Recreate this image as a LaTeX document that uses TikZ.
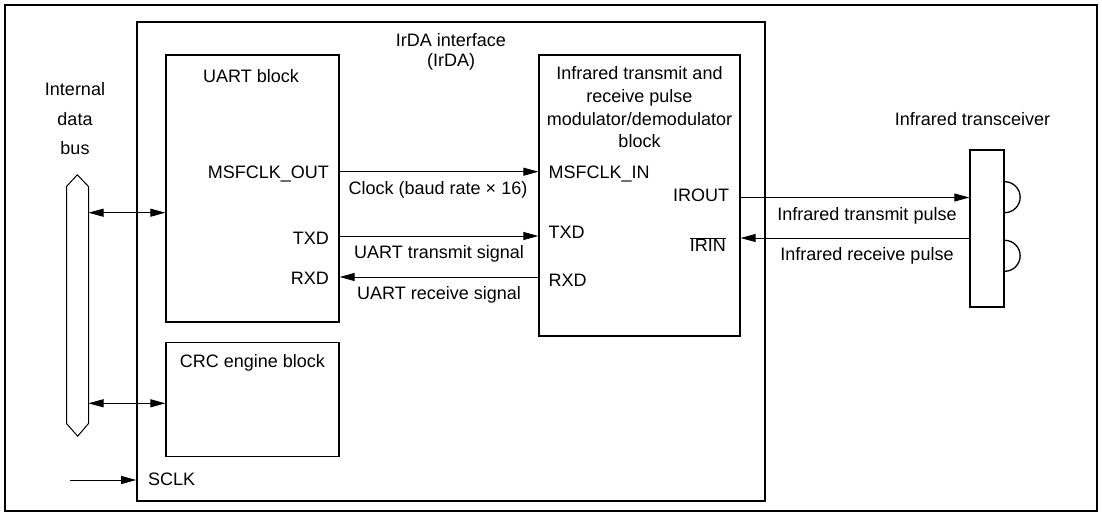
\documentclass[tikz,border=0pt]{standalone}
\usepackage{fontspec}
\setmainfont{Liberation Sans}
\usetikzlibrary{arrows.meta}
\tikzstyle{frame}  = [draw=black, line width=2.2pt]
\tikzstyle{block}  = [rectangle, draw=black, line width=1.3pt, inner sep=0pt]
\tikzstyle{outline}= [draw=black, line width=1.3pt]
\tikzstyle{lbl}    = [inner sep=0pt, anchor=base]
\tikzstyle{arrow}  = [-{Triangle[length=15pt, width=8pt]}, line width=0.9pt]
\tikzstyle{barrow} = [{Triangle[length=15pt, width=8pt]}-{Triangle[length=15pt, width=8pt]}, line width=0.9pt]

\begin{document}
\begin{tikzpicture}[x=1pt, y=-1pt, font=\fontsize{18}{22}\selectfont]
  \useasboundingbox (0,0) rectangle (1102,516);
  \draw[frame] (5,5) rectangle (1097,511);

  % Blocks
  \node[block, line width=1.6pt, minimum width=628pt, minimum height=479pt] (irda) at (451,261.3) {};
  \node[block, minimum width=173pt, minimum height=267pt] (uart) at (252.5,188.5) {};
  \node[block, minimum width=173pt, minimum height=114pt] (crc)  at (252.5,399.2) {};
  \node[block, minimum width=201pt, minimum height=281pt] (irb)  at (639.5,195.5) {};
  \node[block, minimum width=34pt,  minimum height=157pt] (trx)  at (987,228.5) {};
  \node[inner sep=0pt, minimum width=21.6pt, minimum height=236.6pt] (bus) at (77.5,305) {};

  % Bus outline and transceiver lenses
  \draw[line width=1pt] (bus.north west) -- ++(10.8,-11.7) -- (bus.north east)
    -- (bus.south east) -- ++(-10.8,12.7) -- (bus.south west) -- cycle;
  \draw[outline] (trx.east |- 0,181.7) arc[start angle=-90, end angle=90, radius=15.5];
  \draw[outline] (trx.east |- 0,240.3) arc[start angle=-90, end angle=90, radius=15.5];

  % Titles
  \node[lbl] (tint)  at (75,96)  {Internal};
  \node[lbl] (tdata) at (75,125) {data};
  \node[lbl] (tbus)  at (75,154) {bus};
  \node[lbl] (tirda) at (451,46.5) {IrDA interface};
  \node[lbl] (tirda2) at (451,67) {(IrDA)};
  \node[lbl] (tuart) at (251,82.3) {UART block};
  \node[lbl] (tcrc)  at (252.5,367.7) {CRC engine block};
  \node[lbl] (tirb1) at (639.5,79.3)  {Infrared transmit and};
  \node[lbl] (tirb2) at (639.5,102.7) {receive pulse};
  \node[lbl] (tirb3) at (639.5,125.7) {modulator/demodulator};
  \node[lbl] (tirb4) at (639.5,147.3) {block};
  \node[lbl] (ttrx)  at (972.5,125.7) {Infrared transceiver};

  % Ports
  \node[lbl, anchor=base east] (pmsfo) at (329,178.3) {MSFCLK\_OUT};
  \node[lbl, anchor=base east] (ptxdo) at (329,244.3) {TXD};
  \node[lbl, anchor=base east] (prxdo) at (329,284)   {RXD};
  \node[lbl, anchor=base west] (pmsfi) at (548.3,178.3) {MSFCLK\_IN};
  \node[lbl, anchor=base west] (ptxdi) at (548.3,238.3) {TXD};
  \node[lbl, anchor=base west] (prxdi) at (548.3,286.7) {RXD};
  \node[lbl, anchor=base east] (pirout) at (729.3,201.7) {IROUT};
  \node[lbl, anchor=base east] (pirin)  at (726,251.7) {$\overline{\hbox{IRIN}}$};
  \node[lbl, anchor=base west] (psclk)  at (148,485) {SCLK};

  % Signal names
  \node[lbl] (sclk) at (438,194.3) {Clock (baud rate × 16)};
  \node[lbl] (stx)  at (439,258.3) {UART transmit signal};
  \node[lbl] (srx)  at (439,299.5) {UART receive signal};
  \node[lbl] (sirt) at (867,220)   {Infrared transmit pulse};
  \node[lbl] (sirr) at (867,260.7) {Infrared receive pulse};

  % Connections
  \coordinate (sclkin) at (70,480);
  \draw[barrow] (bus.east |- 0,212.7) -- (uart.west |- 0,212.7);
  \draw[barrow] (bus.east |- 0,403.3) -- (crc.west |- 0,403.3);
  \draw[arrow] (sclkin) -- (irda.west |- sclkin);
  \draw[arrow] (uart.east |- 0,171.7) -- (irb.west |- 0,171.7);
  \draw[arrow] (uart.east |- 0,236) -- (irb.west |- 0,236);
  \draw[arrow] (irb.west |- 0,277) -- (uart.east |- 0,277);
  \draw[arrow] (irb.east |- 0,197.5) -- (trx.west |- 0,197.5);
  \draw[arrow] (trx.west |- 0,238) -- (irb.east |- 0,238);
\end{tikzpicture}
\end{document}
